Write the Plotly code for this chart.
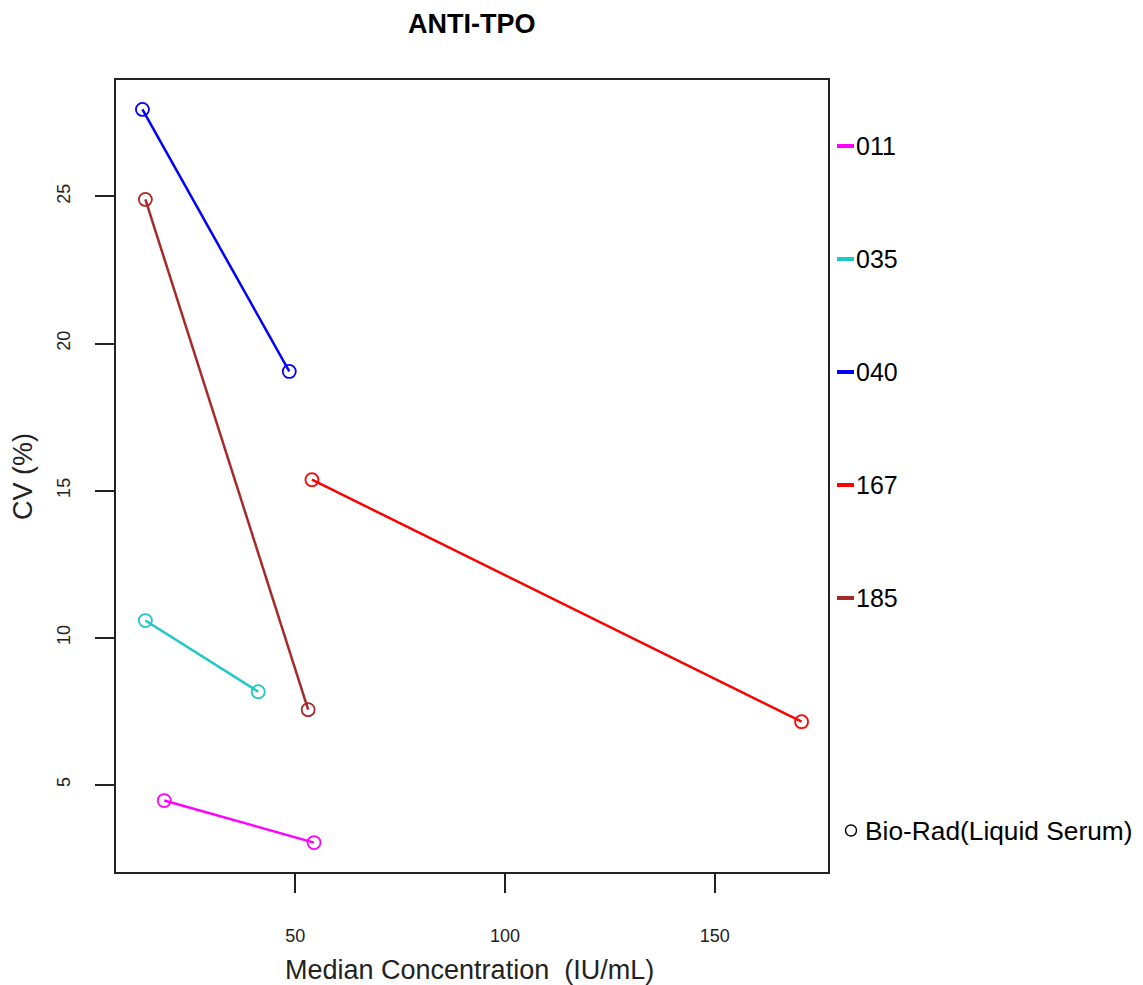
import plotly.graph_objects as go

series_names = ["011", "035", "040", "167", "185"]
series_colors = ["#FF00FF", "#1FC8C8", "#0000FF", "#FF0000", "#A52A2A"]
x_011 = [18.8, 54.5]
y_011 = [4.46, 3.03]
x_035 = [14.3, 41.2]
y_035 = [10.58, 8.16]
x_040 = [13.6, 48.6]
y_040 = [27.96, 19.05]
x_167 = [54.0, 170.7]
y_167 = [15.37, 7.14]
x_185 = [14.3, 53.1]
y_185 = [24.90, 7.55]
xs = [x_011, x_035, x_040, x_167, x_185]
ys = [y_011, y_035, y_040, y_167, y_185]
x_ticks = [50, 100, 150]
y_ticks = [5, 10, 15, 20, 25]

FONT = "Liberation Sans, Arial, sans-serif"

fig = go.Figure()
for name, col, x, y in zip(series_names, series_colors, xs, ys):
    fig.add_trace(go.Scatter(
        x=x, y=y, mode="lines+markers", name=name,
        line=dict(color=col, width=2.5),
        marker=dict(symbol="circle-open", size=13, color=col, line=dict(width=1.8, color=col)),
        showlegend=False,
    ))

# page offset (body margin of 8px)
OFF = 8
L, R, T, B = 116, 828, 80, 872   # plot box in page pixels
W, H = 1143 - OFF, 985 - OFF
def px(xp):
    return (xp - L) / (R - L)
def py(yp):
    return (B - yp) / (B - T)

shapes = []
annotations = []
leg_y = [146, 259, 372, 485, 598]
for name, col, yy in zip(series_names, series_colors, leg_y):
    shapes.append(dict(type="line", xref="paper", yref="paper",
                       x0=px(837), x1=px(854), y0=py(yy), y1=py(yy),
                       line=dict(color=col, width=4)))
    annotations.append(dict(xref="paper", yref="paper", x=px(854), y=py(yy),
                            text=name, showarrow=False, xanchor="left", yanchor="middle",
                            font=dict(family=FONT, size=25, color="black")))
annotations.append(dict(xref="paper", yref="paper", x=px(863), y=py(831),
                        text="Bio-Rad(Liquid Serum)", showarrow=False, xanchor="left", yanchor="middle",
                        font=dict(family=FONT, size=26.3, color="black")))
shapes.append(dict(type="circle", xref="paper", yref="paper",
                   x0=px(845.5), x1=px(856.5), y0=py(836), y1=py(825),
                   line=dict(color="black", width=1.4)))
annotations.append(dict(xref="paper", yref="paper", x=px(472), y=py(24),
                        text="<b>ANTI-TPO</b>", showarrow=False, xanchor="center", yanchor="middle",
                        font=dict(family=FONT, size=27, color="black")))
annotations.append(dict(xref="paper", yref="paper", x=px(469), y=py(970),
                        text="Median Concentration  (IU/mL)", showarrow=False, xanchor="center", yanchor="middle",
                        font=dict(family=FONT, size=27, color="#222")))
annotations.append(dict(xref="paper", yref="paper", x=px(23), y=py(476),
                        text="CV (%)", showarrow=False, xanchor="center", yanchor="middle", textangle=-90,
                        font=dict(family=FONT, size=27, color="#222")))

fig.update_layout(
    width=W, height=H,
    margin=dict(l=L - OFF, r=W - (R - OFF), t=T - OFF, b=H - (B - OFF), autoexpand=False),
    paper_bgcolor="white", plot_bgcolor="white",
    shapes=shapes, annotations=annotations,
    font=dict(family=FONT, color="black"),
)
fig.update_xaxes(range=[7.3, 177.0], tickvals=x_ticks, ticks="outside", ticklen=19, tickwidth=1.5,
                 tickcolor="#222", showline=True, linecolor="#222", linewidth=1.5, mirror=True,
                 showgrid=False, zeroline=False, tickfont=dict(family=FONT, size=18, color="#222"),
                 ticklabelstandoff=28)
fig.update_yaxes(range=[2.03, 28.96], tickvals=y_ticks, ticks="outside", ticklen=19, tickwidth=1.5,
                 tickcolor="#222", showline=True, linecolor="#222", linewidth=1.5, mirror=True,
                 showgrid=False, zeroline=False, tickangle=-90, tickfont=dict(family=FONT, size=18, color="#222"),
                 ticklabelstandoff=18)
fig.write_html("out.html")
